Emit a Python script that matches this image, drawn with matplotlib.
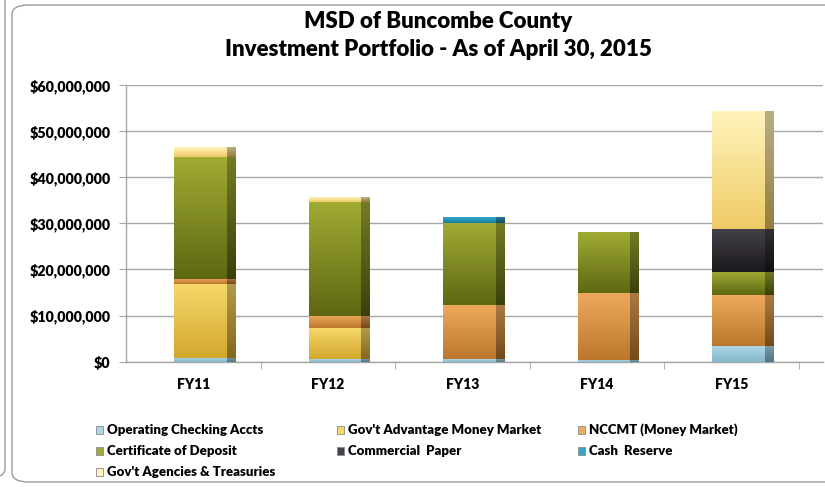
import numpy as np
import matplotlib.pyplot as plt
from matplotlib.patches import FancyBboxPatch, Rectangle
from matplotlib.ticker import FuncFormatter, FixedLocator
from matplotlib.colors import to_rgb

plt.rcParams['font.family'] = ['Lato', 'DejaVu Sans']

# Portfolio data (dollars)
years = ['FY11', 'FY12', 'FY13', 'FY14', 'FY15']
operating = [0.9e6, 0.6e6, 0.6e6, 0.4e6, 3.4e6]
govt_advantage = [16.0e6, 6.6e6, 0, 0, 0]
nccmt = [1.1e6, 2.7e6, 11.7e6, 14.6e6, 11.0e6]
cert_deposit = [26.3e6, 24.7e6, 17.7e6, 13.1e6, 5.0e6]
commercial_paper = [0, 0, 0, 0, 9.4e6]
cash_reserve = [0, 0, 1.1e6, 0, 0]
govt_agencies = [2.0e6, 1.0e6, 0, 0, 25.4e6]

series = [
    ('Operating Checking Accts', operating, '#acd6e5', '#84b9cd'),
    ("Gov't Advantage Money Market", govt_advantage, '#f6d76a', '#d3a82e'),
    ('NCCMT (Money Market)', nccmt, '#eea95c', '#bb782c'),
    ('Certificate of Deposit', cert_deposit, '#a0ab34', '#5f6712'),
    ('Commercial  Paper', commercial_paper, '#46414a', '#1b191d'),
    ('Cash  Reserve', cash_reserve, '#33a7cc', '#1a7d9e'),
    ("Gov't Agencies & Treasuries", govt_agencies, '#fff3bb', '#efcb66'),
]
yticks = np.arange(0, 60e6 + 1, 10e6)

W, H = 825, 487
fig = plt.figure(figsize=(W / 100, H / 100), dpi=100)

# outer frames
fig.patches.append(FancyBboxPatch((12 / W, 5 / H), 830 / W, 477 / H,
                                  boxstyle='round,pad=0,rounding_size=0.02',
                                  transform=fig.transFigure, fc='white', ec='#9a9a9a',
                                  lw=1.0, zorder=-2))
fig.patches.append(FancyBboxPatch((-30 / W, 9 / H), 35 / W, 490 / H,
                                  boxstyle='round,pad=0,rounding_size=0.02',
                                  transform=fig.transFigure, fc='white', ec='#9a9a9a',
                                  lw=1.0, zorder=-2))

ax = fig.add_axes([126 / W, 1 - 361.7 / H, 697 / W, (361.7 - 85) / H])
ax.set_facecolor('none')


def grad(c1, c2, n=64):
    a, b = np.array(to_rgb(c1)), np.array(to_rgb(c2))
    t = np.linspace(0, 1, n)[:, None]
    return (a * (1 - t) + b * t)[:, None, :]


def shade(c, f):
    return tuple(np.array(to_rgb(c)) * f)


x = np.arange(len(years))
bottom = np.zeros(len(years))
for name, vals, ctop, cbot in series:
    vals = np.array(vals, dtype=float)
    front = ax.bar(x - 0.143, vals, width=0.39, bottom=bottom, align='edge',
                   color=ctop, lw=0, zorder=3)
    side = ax.bar(x + 0.247, vals, width=0.062, bottom=bottom, align='edge',
                  color=shade(cbot, 0.7), lw=0, zorder=3)
    for p in front.patches:
        if p.get_height() > 0:
            ax.imshow(grad(ctop, cbot), extent=[p.get_x(), p.get_x() + p.get_width(),
                                                p.get_y(), p.get_y() + p.get_height()],
                      aspect='auto', interpolation='bilinear', zorder=3.5, origin='upper')
    for p in side.patches:
        if p.get_height() > 0:
            ax.imshow(grad(shade(ctop, 0.72), shade(cbot, 0.62)),
                      extent=[p.get_x(), p.get_x() + p.get_width(),
                              p.get_y(), p.get_y() + p.get_height()],
                      aspect='auto', interpolation='bilinear', zorder=3.5, origin='upper')
    bottom += vals

ax.set_xlim(-0.5, 4.68)
ax.set_ylim(0, 60e6)
ax.set_yticks(yticks)
ax.yaxis.set_major_formatter(FuncFormatter(lambda v, _: '${:,.0f}'.format(v)))
ax.grid(axis='y', color='#a6a6a6', lw=1.0, zorder=1)
ax.set_xticks(x)
ax.set_xticklabels(years)
ax.xaxis.set_minor_locator(FixedLocator(np.arange(0.5, 5, 1)))
ax.tick_params(axis='x', which='major', length=0, pad=12, labelsize=10, colors='black')
ax.tick_params(axis='x', which='minor', length=5, color='#a6a6a6', direction='out')
ax.tick_params(axis='y', length=5, color='#a6a6a6', pad=6, labelsize=10.3)
for lab in ax.get_xticklabels() + ax.get_yticklabels():
    lab.set_fontweight('heavy')
for s in ['top', 'right']:
    ax.spines[s].set_visible(False)
for s in ['left', 'bottom']:
    ax.spines[s].set_color('#a6a6a6')
    ax.spines[s].set_linewidth(1.0)

fig.text(438 / W, 1 - 22 / H, 'MSD of Buncombe County', ha='center', va='center',
         fontsize=16, fontweight='heavy')
fig.text(438 / W, 1 - 50 / H, 'Investment Portfolio - As of April 30, 2015', ha='center',
         va='center', fontsize=16, fontweight='heavy')

# legend laid out row by row, three columns
for i, (name, vals, ctop, cbot) in enumerate(series):
    col, row = i % 3, i // 3
    lx = 100 + col * 241
    ly = 430 + row * 21
    fig.patches.append(Rectangle(((lx - 4) / W, 1 - (ly + 4) / H), 7 / W, 8 / H,
                                 transform=fig.transFigure, fc=ctop, ec='#8a8a8a', lw=0.6))
    fig.text((lx + 7) / W, 1 - ly / H, name, ha='left', va='center',
             fontsize=9.5, fontweight='heavy')

fig.savefig('out.png', dpi=100)
